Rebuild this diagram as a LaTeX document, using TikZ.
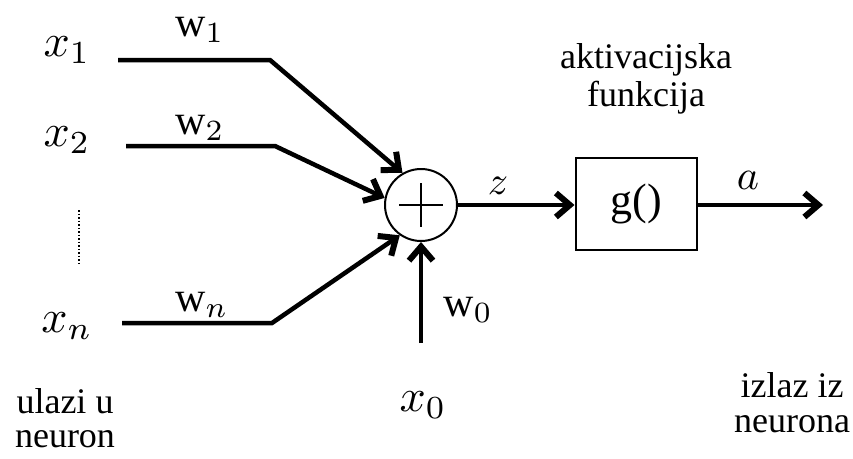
\documentclass[tikz,border=0pt]{standalone}
\usepackage{fontspec}
\setmainfont{Liberation Serif}
\usetikzlibrary{arrows.meta,positioning,calc}

\begin{document}
\begin{tikzpicture}[
  x=1pt,
  y=-1pt,
  >={Straight Barb[length=14pt,width=24pt,line width=6pt 0 1]},
  every node/.style={inner sep=0pt},
  txt/.style={font=\rmfamily\fontsize{36}{34}\selectfont, align=center},
  var/.style={scale=4.6},
  wgt/.style={scale=4.2},
  sum/.style={
    draw,
    circle,
    line width=2pt,
    minimum size=72pt
  },
  act/.style={
    draw,
    line width=2pt,
    minimum width=121pt,
    minimum height=92pt,
    font=\rmfamily\fontsize{44}{44}\selectfont
  },
  arrow/.style={->, line width=4.5pt}
]
\useasboundingbox (0,0) rectangle (853,458);

% neuron
\node[sum] (sum) at (421,205) {};
\draw[line width=2pt] ($(sum.center)+(-22,0)$) -- ($(sum.center)+(22,0)$);
\draw[line width=2pt] ($(sum.center)+(0,-22)$) -- ($(sum.center)+(0,22)$);
\node[act] (act) at (636,204) {g()};

% inputs
\node[var] (x1) at (67,50) {$x_1$};
\node[var] (x2) at (67,140) {$x_2$};
\node[var] (xn) at (67,326) {$x_n$};
\node[var] (x0) at (423,405) {$x_0$};
\node[wgt] (w1) at (200,30) {$\mathrm{w}_1$};
\node[wgt] (w2) at (200,128) {$\mathrm{w}_2$};
\node[wgt] (wn) at (202,305) {$\mathrm{w}_n$};
\node[wgt] (w0) at (468,310) {$\mathrm{w}_0$};
\node[scale=4] (z) at (498,186) {$z$};
\node[scale=4.2] (a) at (748,180) {$a$};

\node[txt] (inputs) at (65,418) {ulazi u\\neuron};
\node[txt] (actname) at (646,79) {aktivacijska\\[4pt]funkcija};
\node[txt] (output) at (792,403) {izlaz iz\\[1pt]neurona};

\coordinate (s1) at (118,60);
\coordinate (k1) at (270,60);
\coordinate (s2) at (126,146);
\coordinate (k2) at (275,146);
\coordinate (sn) at (122,323);
\coordinate (kn) at (272,323);
\coordinate (s0) at (421,343);
\coordinate (out) at (823,205);
\coordinate (d1) at (79,210);
\coordinate (d2) at (79,263);

\draw[arrow] (s1) -- (k1) -- (sum.120);
\draw[arrow] (s2) -- (k2) -- (sum.169);
\draw[arrow] (sn) -- (kn) -- (sum.235);
\draw[arrow] (s0) -- (sum.south);
\draw[line width=1.5pt, dotted] (d1) -- (d2);

\draw[arrow] (sum.east) -- (sum.east -| act.west);
\draw[arrow] (sum.east -| act.east) -- (out);

\end{tikzpicture}
\end{document}
